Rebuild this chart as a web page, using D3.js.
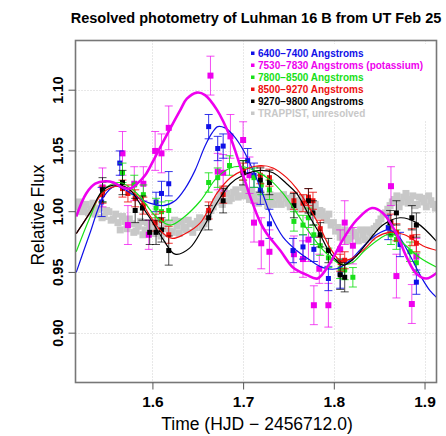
<!DOCTYPE html>
<html><head><meta charset="utf-8">
<script src="https://cdn.jsdelivr.net/npm/d3@7"></script>
<style>body{margin:0;background:#fff}svg{display:block;font-family:"Liberation Sans",Arial,sans-serif}</style>
</head><body><svg id="c" width="446" height="436"></svg>
<script>
// ---- data ----
const xTicks = [1.6, 1.7, 1.8, 1.9];
const yTicks = [0.90, 0.95, 1.00, 1.05, 1.10];
const legendLabels = ["6400\u22127400 Angstroms","7530\u22127830 Angstroms (potassium)","7800\u22128500 Angstroms","8500\u22129270 Angstroms","9270\u22129800 Angstroms","TRAPPIST, unresolved"];
const seriesColors = ["#1010e8","#ee00ee","#18e018","#ee1010","#000000","#c8c8c8"];

const trappistT = [1.517,1.522,1.527,1.532,1.537,1.542,1.547,1.552,1.557,1.562,1.567,1.572,1.577,1.582,1.587,1.592,1.597,1.602,1.607,1.612,1.617,1.622,1.627,1.632,1.637,1.642,1.647,1.652,1.657,1.662,1.667,1.672,1.677,1.682,1.687,1.692,1.697,1.702,1.707,1.712,1.717,1.722,1.727,1.732,1.737,1.742,1.747,1.752,1.757,1.762,1.767,1.772,1.777,1.782,1.787,1.792,1.797,1.802,1.807,1.812,1.817,1.822,1.827,1.832,1.837,1.842,1.847,1.852,1.857,1.862,1.867,1.872,1.877,1.882,1.887,1.892,1.897,1.902,1.907,1.912];
const trappistF = [1.004,1.000,1.006,1.002,0.998,1.003,0.996,1.000,0.994,0.991,0.996,0.986,0.990,0.984,0.992,0.985,0.989,0.982,0.993,0.986,0.990,0.983,0.988,0.992,0.985,0.990,0.987,0.995,0.990,0.998,1.004,1.010,1.006,1.015,1.011,1.018,1.013,1.016,1.010,1.014,1.007,1.012,1.005,1.010,1.013,1.006,1.011,1.004,1.009,1.002,1.007,1.001,1.004,0.997,1.000,0.993,0.989,0.984,0.979,0.985,0.978,0.983,0.976,0.981,0.985,0.979,0.988,0.994,0.999,1.005,1.010,1.004,1.012,1.007,1.013,1.006,1.011,1.004,1.009,1.003];
const trappistT2 = [1.5195,1.5245,1.5295,1.5345,1.5395,1.5445,1.5495,1.5545,1.5595,1.5645,1.5695,1.5745,1.5795,1.5845,1.5895,1.5945,1.5995,1.6045,1.6095,1.6145,1.6195,1.6245,1.6295,1.6345,1.6395,1.6445,1.6495,1.6545,1.6595,1.6645,1.6695,1.6745,1.6795,1.6845,1.6895,1.6945,1.6995,1.7045,1.7095,1.7145,1.7195,1.7245,1.7295,1.7345,1.7395,1.7445,1.7495,1.7545,1.7595,1.7645,1.7695,1.7745,1.7795,1.7845,1.7895,1.7945,1.7995,1.8045,1.8095,1.8145,1.8195,1.8245,1.8295,1.8345,1.8395,1.8445,1.8495,1.8545,1.8595,1.8645,1.8695,1.8745,1.8795,1.8845,1.8895,1.8945,1.8995,1.9045,1.9095];
const trappistF2 = [1.008,1.003,0.999,1.007,1.002,0.995,1.001,0.993,0.998,0.985,0.992,0.994,0.983,0.988,0.981,0.991,0.984,0.988,0.980,0.991,0.984,0.993,0.982,0.987,0.993,0.983,0.992,0.987,0.994,1.001,1.008,1.014,1.019,1.009,1.016,1.012,1.020,1.013,1.017,1.009,1.015,1.009,1.014,1.006,1.010,1.014,1.007,1.012,1.006,1.011,1.004,0.999,1.006,1.001,0.996,0.998,0.991,0.987,0.982,0.976,0.984,0.980,0.985,0.977,0.983,0.986,0.991,0.998,1.002,1.008,1.013,1.008,1.015,1.010,1.005,1.012,1.008,1.013,1.006];

// [time, flux, error]
const blueObs = [[1.544,1.008,.012],[1.564,1.040,.010],[1.604,1.008,.008],[1.610,1.015,.010],[1.618,1.023,.010],[1.662,1.070,.010],[1.672,1.052,.010],[1.678,1.054,.010],[1.705,1.042,.010],[1.712,1.030,.010],[1.719,1.018,.012],[1.729,0.990,.012],[1.755,0.968,.010],[1.766,0.971,.010],[1.778,0.969,.010],[1.794,0.945,.010],[1.807,0.949,.012],[1.860,0.987,.010],[1.873,0.973,.010],[1.891,0.942,.010]];
const magentaObs = [[1.545,1.020,.016],[1.567,1.048,.018],[1.573,0.989,.016],[1.580,1.023,.014],[1.590,1.023,.014],[1.596,0.981,.012],[1.603,1.050,.016],[1.610,1.048,.016],[1.618,1.069,.018],[1.664,1.112,.016],[1.672,1.033,.015],[1.678,1.032,.015],[1.686,1.062,.018],[1.700,1.059,.015],[1.707,1.030,.015],[1.712,0.991,.016],[1.720,0.974,.021],[1.729,0.967,.018],[1.756,0.965,.015],[1.766,0.961,.015],[1.772,0.977,.018],[1.778,0.923,.016],[1.784,0.953,.012],[1.794,0.923,.018],[1.807,0.969,.016],[1.812,0.991,.018],[1.821,0.972,.015],[1.863,1.021,.016],[1.869,0.947,.018],[1.886,0.924,.016],[1.891,0.963,.015]];
const greenObs = [[1.545,1.016,.008],[1.567,1.032,.008],[1.580,1.022,.008],[1.590,1.014,.008],[1.604,1.003,.008],[1.610,1.000,.008],[1.618,1.001,.008],[1.662,1.024,.008],[1.672,1.028,.008],[1.685,1.038,.008],[1.700,1.034,.008],[1.712,1.028,.008],[1.720,1.022,.008],[1.729,1.018,.008],[1.756,0.992,.008],[1.766,0.989,.008],[1.772,0.995,.008],[1.778,0.981,.008],[1.785,0.972,.008],[1.794,0.962,.008],[1.807,0.953,.008],[1.812,0.952,.008],[1.821,0.946,.008],[1.863,0.981,.008],[1.869,0.977,.008],[1.884,0.967,.008],[1.891,0.958,.008]];
const redObs = [[1.545,1.014,.007],[1.567,1.019,.007],[1.573,1.015,.007],[1.581,1.011,.007],[1.590,1.005,.007],[1.603,0.991,.007],[1.610,0.993,.007],[1.618,0.981,.007],[1.662,1.001,.007],[1.678,1.014,.007],[1.700,1.033,.007],[1.719,1.030,.007],[1.729,1.028,.007],[1.756,1.009,.007],[1.766,1.007,.007],[1.772,1.012,.007],[1.777,1.009,.007],[1.785,0.986,.007],[1.807,0.958,.007],[1.812,0.960,.007],[1.863,0.991,.007],[1.869,0.983,.007],[1.886,0.979,.007],[1.891,0.974,.007]];
const blackObs = [[1.545,1.018,.010],[1.567,1.024,.010],[1.581,1.001,.010],[1.589,1.003,.010],[1.597,0.983,.010],[1.604,0.983,.010],[1.610,0.985,.010],[1.618,0.968,.012],[1.662,0.995,.010],[1.678,1.009,.010],[1.700,1.032,.010],[1.719,1.026,.010],[1.729,1.024,.010],[1.756,1.005,.010],[1.772,1.009,.010],[1.777,0.999,.010],[1.785,0.981,.010],[1.794,0.968,.010],[1.807,0.948,.012],[1.812,0.946,.012],[1.862,0.991,.010],[1.869,0.999,.010],[1.886,0.995,.010],[1.891,0.989,.010]];

// fitted model curves [time, flux]
const blueFit = [[1.516,0.950],[1.531,0.982],[1.546,1.012],[1.559,1.021],[1.570,1.018],[1.583,1.012],[1.597,1.007],[1.612,1.005],[1.625,1.009],[1.636,1.019],[1.647,1.034],[1.658,1.054],[1.666,1.065],[1.672,1.070],[1.680,1.069],[1.689,1.063],[1.700,1.051],[1.711,1.034],[1.722,1.014],[1.730,0.998],[1.744,0.979],[1.759,0.968],[1.774,0.960],[1.788,0.954],[1.803,0.953],[1.818,0.960],[1.832,0.971],[1.847,0.981],[1.860,0.985],[1.871,0.980],[1.884,0.964],[1.895,0.948],[1.906,0.935],[1.914,0.929]];
const magentaFit = [[1.516,0.996],[1.527,1.015],[1.537,1.023],[1.548,1.025],[1.557,1.024],[1.567,1.020],[1.575,1.019],[1.583,1.023],[1.592,1.030],[1.601,1.042],[1.610,1.055],[1.620,1.069],[1.631,1.084],[1.638,1.093],[1.649,1.098],[1.658,1.096],[1.671,1.084],[1.686,1.061],[1.697,1.037],[1.708,1.012],[1.719,0.991],[1.726,0.982],[1.741,0.968],[1.755,0.954],[1.770,0.948],[1.782,0.945],[1.796,0.958],[1.810,0.977],[1.825,0.993],[1.842,1.003],[1.854,0.999],[1.869,0.982],[1.880,0.963],[1.891,0.949],[1.902,0.945],[1.914,0.950]];
const greenFit = [[1.516,0.967],[1.531,0.995],[1.546,1.018],[1.564,1.024],[1.583,1.015],[1.605,0.995],[1.620,0.989],[1.634,0.995],[1.653,1.009],[1.671,1.028],[1.686,1.036],[1.700,1.037],[1.715,1.033],[1.730,1.026],[1.744,1.015],[1.759,0.999],[1.774,0.982],[1.790,0.967],[1.807,0.957],[1.820,0.958],[1.834,0.968],[1.851,0.978],[1.864,0.982],[1.878,0.973],[1.895,0.962],[1.914,0.954]];
const redFit = [[1.516,0.982],[1.531,0.999],[1.546,1.016],[1.564,1.021],[1.583,1.013],[1.597,0.997],[1.612,0.982],[1.622,0.978],[1.634,0.981],[1.653,0.991],[1.671,1.015],[1.686,1.028],[1.700,1.034],[1.719,1.038],[1.733,1.036],[1.748,1.028],[1.759,1.019],[1.770,1.007],[1.785,0.987],[1.796,0.970],[1.807,0.960],[1.818,0.961],[1.832,0.968],[1.847,0.979],[1.862,0.983],[1.878,0.981],[1.898,0.972],[1.914,0.968]];
const blackFit = [[1.516,0.982],[1.531,0.999],[1.546,1.018],[1.561,1.022],[1.575,1.018],[1.586,1.007],[1.597,0.995],[1.612,0.977],[1.625,0.965],[1.641,0.970],[1.656,0.987],[1.671,1.007],[1.686,1.023],[1.700,1.030],[1.719,1.034],[1.733,1.032],[1.748,1.023],[1.759,1.015],[1.774,0.995],[1.785,0.981],[1.796,0.966],[1.810,0.956],[1.823,0.962],[1.832,0.970],[1.854,0.989],[1.873,0.995],[1.891,0.991],[1.914,0.975]];

// ---- layout ----
const svg = d3.select("#c");
const L = 75.5, T = 40.5, R = 436.5, B = 382.5;
const x = d3.scaleLinear().domain([1.5152, 1.9132]).range([L, R]);
const y = d3.scaleLinear().domain([0.8594, 1.1409]).range([B, T]);

svg.append("defs").append("clipPath").attr("id","clip")
  .append("rect").attr("x",L).attr("y",T).attr("width",R-L).attr("height",B-T);

// grid
const grid = svg.append("g").attr("stroke","#d0d0d0").attr("stroke-dasharray","1,2").attr("stroke-width",1);
xTicks.forEach(v=>grid.append("line").attr("x1",Math.round(x(v))+0.5).attr("x2",Math.round(x(v))+0.5).attr("y1",T).attr("y2",B));
yTicks.forEach(v=>grid.append("line").attr("y1",Math.round(y(v))+0.5).attr("y2",Math.round(y(v))+0.5).attr("x1",L).attr("x2",R));

const plot = svg.append("g").attr("clip-path","url(#clip)");

// TRAPPIST
const trap = d3.zip(trappistT,trappistF).concat(d3.zip(trappistT2,trappistF2));
plot.append("g").attr("fill",seriesColors[5]).selectAll("rect").data(trap).join("rect")
  .attr("x",d=>x(d[0])-3.5).attr("y",d=>y(d[1])-3.5).attr("width",7).attr("height",7);

function drawObs(data,color,sz,op){
  const g = plot.append("g");
  g.selectAll("line.v").data(data).join("line").attr("stroke",color).attr("stroke-opacity",op)
    .attr("x1",d=>x(d[0])).attr("x2",d=>x(d[0])).attr("y1",d=>y(d[1]-d[2])).attr("y2",d=>y(d[1]+d[2]));
  ["top","bot"].forEach(k=>{
    g.selectAll("line."+k).data(data).join("line").attr("stroke",color).attr("stroke-opacity",op)
      .attr("x1",d=>x(d[0])-4).attr("x2",d=>x(d[0])+4)
      .attr("y1",d=>y(k==="top"?d[1]+d[2]:d[1]-d[2])).attr("y2",d=>y(k==="top"?d[1]+d[2]:d[1]-d[2]));
  });
  g.selectAll("rect").data(data).join("rect").attr("fill",color)
    .attr("x",d=>x(d[0])-sz/2).attr("y",d=>y(d[1])-sz/2).attr("width",sz).attr("height",sz);
}
drawObs(magentaObs,seriesColors[1],6,0.7);
drawObs(blueObs,seriesColors[0],5,0.85);
drawObs(greenObs,seriesColors[2],5,0.85);
drawObs(redObs,seriesColors[3],5,0.85);
drawObs(blackObs,seriesColors[4],5,0.7);

const line = d3.line().x(d=>x(d[0])).y(d=>y(d[1])).curve(d3.curveCatmullRom);
[[blueFit,0,1.2],[greenFit,2,1.2],[redFit,3,1.2],[blackFit,4,1.2],[magentaFit,1,2.6]].forEach(([d,i,w])=>{
  plot.append("path").datum(d).attr("fill","none").attr("stroke",seriesColors[i]).attr("stroke-width",w).attr("d",line);
});

// legend
const lg = svg.append("g");
lg.append("rect").attr("x",246).attr("y",44).attr("width",190).attr("height",76).attr("fill","#fff");
legendLabels.forEach((t,i)=>{
  const yy = 53.5 + i*12;
  lg.append("rect").attr("x",251).attr("y",yy-2).attr("width",3.5).attr("height",3.5).attr("fill",seriesColors[i]);
  lg.append("text").attr("x",258).attr("y",yy+3.5).attr("fill",seriesColors[i]).attr("font-size",10).attr("font-weight","bold").text(t);
});

// frame
svg.append("rect").attr("x",L).attr("y",T).attr("width",R-L).attr("height",B-T).attr("fill","none").attr("stroke","#777").attr("stroke-width",1.6);

// axes
const ax = svg.append("g").attr("transform",`translate(0,${B})`).call(d3.axisBottom(x).tickValues(xTicks).tickSize(7).tickPadding(6).tickFormat(d3.format(".1f")));
ax.select(".domain").remove();
ax.selectAll("line").attr("stroke","#555");
ax.selectAll("text").attr("font-size",15.5).attr("font-weight","bold").attr("fill","#000").attr("font-family","Liberation Sans, Arial, sans-serif");
const ay = svg.append("g").attr("transform",`translate(${L},0)`).call(d3.axisLeft(y).tickValues(yTicks).tickSize(7).tickFormat(d3.format(".2f")));
ay.select(".domain").remove();
ay.selectAll("line").attr("stroke","#555");
ay.selectAll("text").attr("font-size",14).attr("font-weight","bold").attr("fill","#000").attr("font-family","Liberation Sans, Arial, sans-serif")
  .attr("transform",d=>`rotate(-90,${-12},${y(d)})`).attr("x",-12).attr("dy",0).attr("text-anchor","middle").attr("y",d=>y(d));
ay.selectAll(".tick").attr("transform",null);
ay.selectAll(".tick line").attr("y1",d=>y(d)).attr("y2",d=>y(d));

svg.append("text").attr("x",256).attr("y",23).attr("text-anchor","middle").attr("font-size",14.5).attr("font-weight","bold").text("Resolved photometry of Luhman 16 B from UT Feb 25");
svg.append("text").attr("x",257).attr("y",430).attr("text-anchor","middle").attr("font-size",17.5).text("Time (HJD \u2212 2456712.0)");
svg.append("text").attr("transform","translate(44,215) rotate(-90)").attr("text-anchor","middle").attr("font-size",17.5).text("Relative Flux");
</script></body></html>
